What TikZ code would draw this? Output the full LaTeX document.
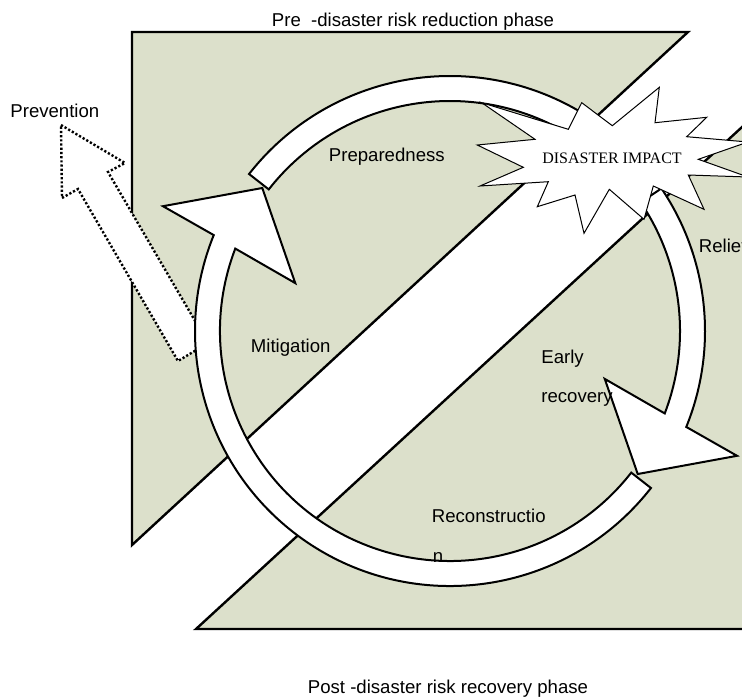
\documentclass[tikz,border=0pt]{standalone}
\usepackage{fontspec}
\setmainfont{Liberation Sans}
\newfontfamily\impactfont{Liberation Serif}
\usetikzlibrary{calc}
\definecolor{phasefill}{HTML}{DCE0CB}

\begin{document}
\begin{tikzpicture}[x=0.5pt,y=0.5pt,
    phase/.style={fill=phasefill,draw=black,line width=1.2pt,line join=miter},
    band/.style={fill=white,draw=black,line width=1pt,line join=miter},
    lbl/.style={anchor=base west,inner sep=0pt,font=\fontsize{9.3}{11}\selectfont}]
  \useasboundingbox (0,0) rectangle (742,-697);
  \clip (0,0) rectangle (742,-697);

  % les deux phases
  \draw[phase] (132,-32) -- (688,-32) -- (132,-545) -- cycle;
  \draw[phase] (760,-110.5) -- (196,-629) -- (760,-629);

  % fleche pointillee (prevention)
  \draw[fill=white,line width=1.2pt,dash pattern=on 1.1pt off 1pt]
    (61,-125) -- (125,-163) -- (108,-172) -- (208,-343) -- (178,-361)
    -- (78,-189) -- (62,-198) -- cycle;

  % le cycle
  \coordinate (cyc) at (450,-331);
  \draw[band] ($(cyc)+(142:127.5pt)$) arc[start angle=142,end angle=45,radius=127.5pt]
    -- ($(cyc)+(45:115pt)$) arc[start angle=45,end angle=142,radius=115pt] -- cycle;
  \draw[band] ($(cyc)+(34:127.5pt)$) arc[start angle=34,end angle=-22.1,radius=127.5pt]
    -- ($(cyc)+(-23.5:156.5pt)$) -- ($(cyc)+(-37.3:118pt)$) -- ($(cyc)+(-17.2:81pt)$)
    -- ($(cyc)+(-21:115pt)$) arc[start angle=-21,end angle=34,radius=115pt] -- cycle;
  \draw[band] ($(cyc)+(-38:127.5pt)$) arc[start angle=-38,end angle=-202.1,radius=127.5pt]
    -- ($(cyc)+(-203.5:156.5pt)$) -- ($(cyc)+(-217.3:118pt)$) -- ($(cyc)+(-197.2:81pt)$)
    -- ($(cyc)+(-201:115pt)$) arc[start angle=-201,end angle=-38,radius=115pt] -- cycle;

  % explosion
  \draw[fill=white,line width=0.5pt]
    (481.7,-102.7) -- (568.3,-129.3) -- (581.7,-102.7) -- (612.3,-125.7)
    -- (659.3,-87.3) -- (655,-122.7) -- (706.7,-117.3) -- (686.7,-136.7)
    -- (748,-142) -- (698.3,-159.3) -- (748,-177) -- (688.3,-175)
    -- (704,-209.3) -- (653.3,-186) -- (644,-219.3) -- (609.3,-189.3)
    -- (584,-233.3) -- (575,-195) -- (537.3,-206.7) -- (548.3,-181.7)
    -- (480,-186) -- (523.3,-167.3) -- (477.3,-145) -- (535,-139.3) -- cycle;
  \node[font=\impactfont\fontsize{8}{9.6}\selectfont] (impact) at (612,-158) {DISASTER IMPACT};

  % textes
  \node[lbl] (prephase) at (271.5,-26) {Pre\ \ -disaster risk reduction phase};
  \node[lbl] (postphase) at (307.5,-693) {Post -disaster risk recovery phase};
  \node[lbl] (prevention) at (10,-117.5) {Prevention};
  \node[lbl] (preparedness) at (328.5,-161) {Preparedness};
  \node[lbl] (mitigation) at (250.5,-352) {Mitigation};
  \node[lbl] (relief) at (698.5,-252) {Relief};
  \node[lbl] (early) at (541,-363.3) {Early};
  \node[lbl] (recovery) at (541,-402.7) {recovery};
  \node[lbl] (reconstruction) at (431.5,-522.7) {Reconstructio};
  \node[lbl] (reconn) at (432.5,-562.3) {n};
\end{tikzpicture}
\end{document}
